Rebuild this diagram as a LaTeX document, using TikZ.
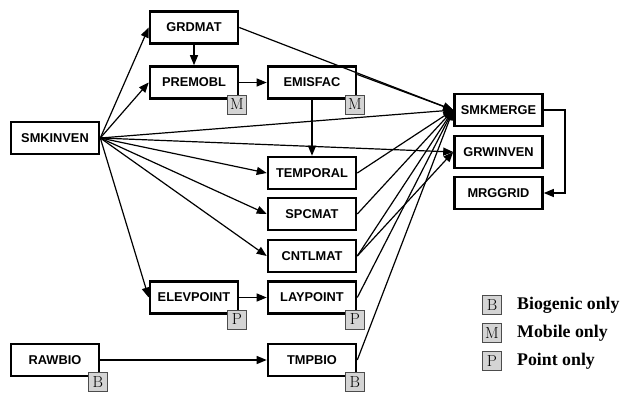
\documentclass[tikz,border=0pt]{standalone}
\usepackage{fontspec}
\newfontfamily\boxfont{Liberation Sans}
\newfontfamily\legfont{Liberation Serif}
\usetikzlibrary{arrows.meta,calc}
\tikzset{
  proc/.style={draw, line width=2.6pt, minimum width=88pt, minimum height=32pt, inner sep=0pt,
    font=\boxfont\bfseries\fontsize{12.8}{15}\selectfont},
  badge/.style={draw=black!70, line width=0.6pt, fill=black!17, minimum size=19pt, inner sep=0pt,
    font=\fontsize{16}{16}\selectfont},
  link/.style={line width=1.2pt, -{Triangle[length=10pt,width=8pt]}},
  legtext/.style={anchor=west, inner sep=0pt, font=\legfont\bfseries\fontsize{17.8}{19}\selectfont}
}
\begin{document}
\begin{tikzpicture}[x=1pt,y=-1pt]
\useasboundingbox[fill=white] (0,0) rectangle (624,402);
% boxes
\node[proc] (GRDMAT)   at (194,27.5)  {GRDMAT};
\node[proc] (PREMOBL)  at (194,82.5)  {PREMOBL};
\node[proc] (EMISFAC)  at (312,82.5)  {EMISFAC};
\node[proc] (SMKINVEN) at (55,138)    {SMKINVEN};
\node[proc] (SMKMERGE) at (498.5,110) {SMKMERGE};
\node[proc] (GRWINVEN) at (498.5,152) {GRWINVEN};
\node[proc] (MRGGRID)  at (498.5,193) {MRGGRID};
\node[proc] (TEMPORAL) at (312,173)   {TEMPORAL};
\node[proc] (SPCMAT)   at (312,214)   {SPCMAT};
\node[proc] (CNTLMAT)  at (312,256)   {CNTLMAT};
\node[proc] (ELEVPOINT) at (194,297.5) {ELEVPOINT};
\node[proc] (LAYPOINT) at (312,297.5) {LAYPOINT};
\node[proc] (RAWBIO)   at (55,360)    {RAWBIO};
\node[proc] (TMPBIO)   at (312,360)   {TMPBIO};
% connectors
\draw[link] (SMKINVEN.east) -- (GRDMAT.west);
\draw[link] (SMKINVEN.east) -- (PREMOBL.west);
\draw[link] (SMKINVEN.east) -- (SMKMERGE.west);
\draw[link] (SMKINVEN.east) -- (GRWINVEN.west);
\draw[link] (SMKINVEN.east) -- (TEMPORAL.west);
\draw[link] (SMKINVEN.east) -- (SPCMAT.west);
\draw[link] (SMKINVEN.east) -- (CNTLMAT.west);
\draw[link] (SMKINVEN.east) -- (ELEVPOINT.west);
\draw[link] (GRDMAT) -- (PREMOBL);
\draw[link] (PREMOBL) -- (EMISFAC);
\draw[link] (EMISFAC) -- (TEMPORAL);
\draw[link] (ELEVPOINT) -- (LAYPOINT);
\draw[link] (RAWBIO) -- (TMPBIO);
\draw[link] (GRDMAT.east) -- (SMKMERGE.west);
\draw[link] ([yshift=8pt]EMISFAC.east) -- (SMKMERGE.west);
\draw[link] (TEMPORAL.east) -- (SMKMERGE.west);
\draw[link] (SPCMAT.east) -- (SMKMERGE.west);
\draw[link] (CNTLMAT.east) -- (SMKMERGE.west);
\draw[link] (CNTLMAT.east) -- (GRWINVEN.west);
\draw[link] (LAYPOINT.east) -- (SMKMERGE.west);
\draw[link] (TMPBIO.east) -- (SMKMERGE.west);
\coordinate (bend1) at (565,110);
\coordinate (bend2) at (565,193);
\draw[link] (SMKMERGE.east) -- (bend1) -- (bend2) -- (MRGGRID.east);
% badges
\node[badge] (bPREMOBL) at ($(PREMOBL.south east)+(-2.5,4.5)$) {M};
\node[badge] (bEMISFAC) at ($(EMISFAC.south east)+(-2.5,4.5)$) {M};
\node[badge] (bELEVPOINT) at ($(ELEVPOINT.south east)+(-2.5,4.5)$) {P};
\node[badge] (bLAYPOINT) at ($(LAYPOINT.south east)+(-2.5,4.5)$) {P};
\node[badge] (bRAWBIO) at ($(RAWBIO.south east)+(-2.5,4.5)$) {B};
\node[badge] (bTMPBIO) at ($(TMPBIO.south east)+(-2.5,4.5)$) {B};
% legend
\node[badge] (lB) at (492,305) {B};
\node[badge] (lM) at (492,333) {M};
\node[badge] (lP) at (492,361) {P};
\node[legtext] (tB) at (517,305) {Biogenic only};
\node[legtext] (tM) at (517,333) {Mobile only};
\node[legtext] (tP) at (517,361) {Point only};
\end{tikzpicture}
\end{document}
